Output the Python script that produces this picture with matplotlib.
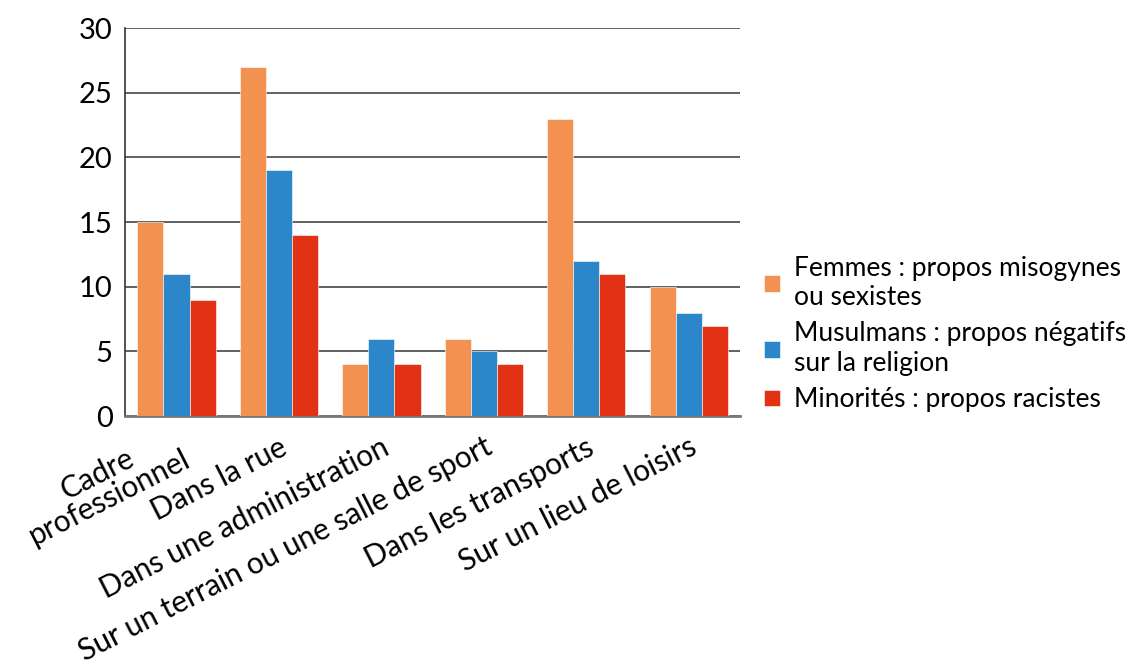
import matplotlib.pyplot as plt
import matplotlib.transforms as mtransforms
import numpy as np

plt.rcParams['font.family'] = ['Lato', 'DejaVu Sans']

categories = ["Cadre\nprofessionnel", "Dans la rue", "Dans une administration",
              "Sur un terrain ou une salle de sport", "Dans les transports",
              "Sur un lieu de loisirs"]
femmes = [15, 27, 4, 6, 23, 10]
musulmans = [11, 19, 6, 5, 12, 8]
minorites = [9, 14, 4, 4, 11, 7]
series_labels = ["Femmes : propos misogynes\nou sexistes",
                 "Musulmans : propos négatifs\nsur la religion",
                 "Minorités : propos racistes"]
colors = ["#F29150", "#2B87C9", "#E33115"]

fig = plt.figure(figsize=(11.28, 6.68), dpi=100)
ax = fig.add_axes([0.111, 0.377, 0.545, 0.581])

x = np.arange(len(categories))
w = 0.255
for i, (vals, lab, c) in enumerate(zip([femmes, musulmans, minorites], series_labels, colors)):
    ax.bar(x + (i - 1) * w, vals, w, color=c, label=lab, zorder=3,
           edgecolor="white", linewidth=0.4)

ax.set_xlim(-0.5, len(categories) - 0.5)
ax.set_ylim(0, 30)
ax.set_yticks(range(0, 31, 5))
ax.yaxis.grid(True, color="#555555", linewidth=1.3, zorder=0)
ax.tick_params(axis="y", length=0, labelsize=21, pad=9)
ax.tick_params(axis="x", length=0, labelsize=21.5, pad=21)
ax.set_xticks(x)
ax.set_xticklabels(categories, rotation=27, ha="right", va="center",
                   rotation_mode="anchor", multialignment="center", linespacing=0.9)
# nudge the labels a little to the right
shift = mtransforms.ScaledTranslation(6 / 100, 0, fig.dpi_scale_trans)
for t in ax.get_xticklabels():
    t.set_transform(t.get_transform() + shift)
for s in ["top", "right"]:
    ax.spines[s].set_visible(False)
ax.spines["left"].set_color("#333333")
ax.spines["left"].set_linewidth(1.2)
ax.spines["bottom"].set_color("#777777")
ax.spines["bottom"].set_linewidth(2)

fig.legend(loc="center left", bbox_to_anchor=(0.656, 0.5), frameon=False,
           fontsize=19, handlelength=0.6, handleheight=0.6, handletextpad=0.55,
           labelspacing=0.45)

fig.savefig("out.png", dpi=100)
